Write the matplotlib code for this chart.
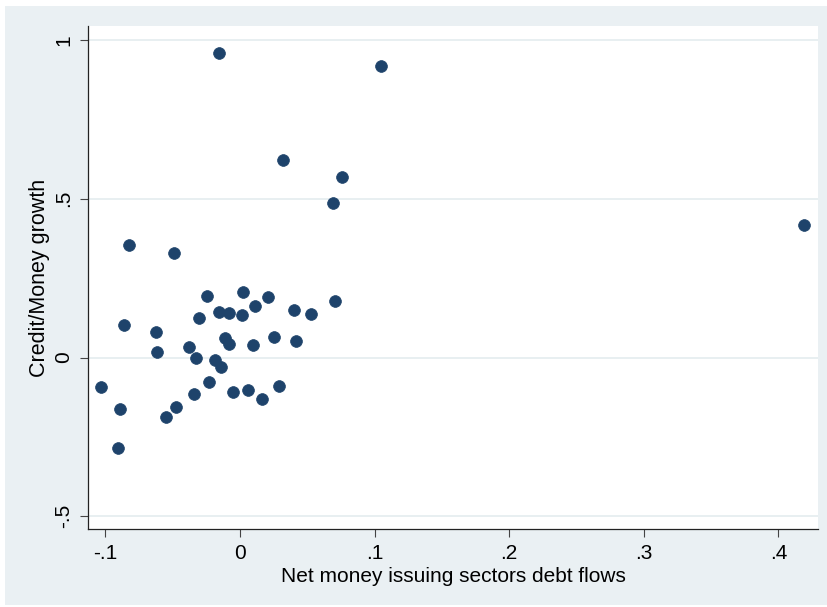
import matplotlib.pyplot as plt
from matplotlib.patches import Rectangle

# net money issuing sectors debt flows vs credit/money growth
debt_flows = [-0.0154, 0.1048, 0.0322, 0.0760, 0.0693, 0.4192, -0.0822, -0.0488,
              -0.0245, 0.0020, 0.0210, 0.0109, -0.0158, -0.0079, 0.0017, -0.0305,
              0.0399, 0.0525, 0.0706, -0.0860, -0.0624, -0.0619, -0.0379, -0.0114,
              -0.0082, 0.0099, 0.0253, 0.0418, -0.0329, -0.0184, -0.0143, -0.0228,
              -0.1033, -0.0342, -0.0054, 0.0062, 0.0161, 0.0290, -0.0889, -0.0475,
              -0.0550, -0.0906]
credit_growth = [0.958, 0.918, 0.622, 0.568, 0.487, 0.417, 0.355, 0.328,
                 0.195, 0.206, 0.191, 0.163, 0.144, 0.140, 0.134, 0.124,
                 0.150, 0.136, 0.179, 0.103, 0.081, 0.016, 0.034, 0.061,
                 0.043, 0.039, 0.066, 0.053, -0.002, -0.007, -0.029, -0.076,
                 -0.093, -0.115, -0.110, -0.102, -0.131, -0.089, -0.162, -0.157,
                 -0.188, -0.286]

xticks = [-0.1, 0, 0.1, 0.2, 0.3, 0.4]
xticklabels = ['-.1', '0', '.1', '.2', '.3', '.4']
yticks = [-0.5, 0, 0.5, 1]
yticklabels = ['-.5', '0', '.5', '1']

W, H = 828, 607
navy = '#1E436B'
bg = '#EAF0F3'

plt.rcParams['font.family'] = ['Liberation Sans', 'DejaVu Sans']

fig = plt.figure(figsize=(W / 100, H / 100), dpi=100)
fig.patch.set_facecolor('white')
fig.patches.append(Rectangle((5 / W, 1 - 605 / H), 1 - 5 / W, 599 / H,
                             transform=fig.transFigure, facecolor=bg,
                             edgecolor='none', zorder=-10))

left, right, top, bottom = 88, 818, 26, 529
ax = fig.add_axes([left / W, 1 - bottom / H, (right - left) / W, (bottom - top) / H])
ax.set_facecolor('white')

ax.scatter(debt_flows, credit_growth, s=72, color=navy, edgecolors=navy,
           linewidths=0.5, zorder=3)

ax.set_xlim(-0.1129, 0.4294)
ax.set_ylim(-0.540, 1.044)

ax.set_xticks(xticks)
ax.set_xticklabels(xticklabels)
ax.set_yticks(yticks)
ax.set_yticklabels(yticklabels, rotation=90, va='center')

ax.grid(axis='y', color='#E4ECEF', linewidth=1.2, zorder=0)
ax.grid(axis='x', visible=False)

for side in ['top', 'right']:
    ax.spines[side].set_visible(False)
for side in ['left', 'bottom']:
    ax.spines[side].set_color('#222222')
    ax.spines[side].set_linewidth(0.9)

ax.tick_params(axis='both', direction='out', length=5.5, width=0.8,
               color='#444444', labelsize=15, labelcolor='black', pad=5)

ax.set_xlabel('Net money issuing sectors debt flows', fontsize=15, va='center')
ax.xaxis.set_label_coords(0.5, (bottom - 576) / (bottom - top))
ax.set_ylabel('Credit/Money growth', fontsize=15.5, va='center')
ax.yaxis.set_label_coords((40 - left) / (right - left), 0.5)

fig.savefig('out.png', dpi=100)
